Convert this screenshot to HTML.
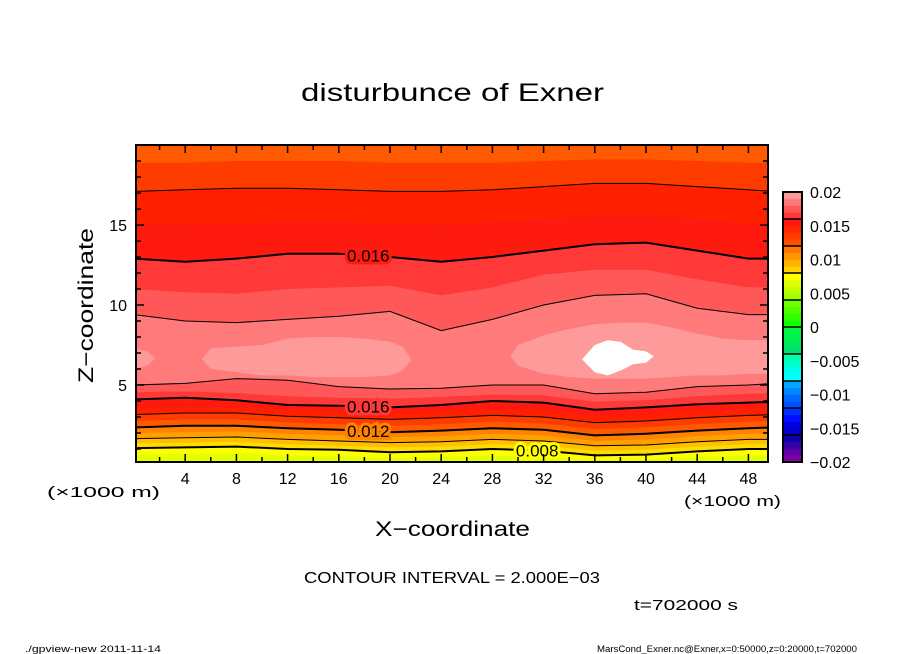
<!DOCTYPE html>
<html><head><meta charset="utf-8"><style>
body{margin:0;background:#fff;}
svg{display:block;font-family:"Liberation Sans",sans-serif;}
</style></head><body>
<svg id="chart" width="904" height="654" viewBox="0 0 904 654">
<defs><clipPath id="pc"><rect x="136" y="145" width="632" height="317"/></clipPath></defs>
<text x="301" y="101" font-size="25" textLength="303" lengthAdjust="spacingAndGlyphs">disturbunce of Exner</text>
<g id="plot" clip-path="url(#pc)"></g>
<g id="lines" clip-path="url(#pc)"></g>
<rect x="136" y="145" width="632" height="317" fill="none" stroke="#000" stroke-width="2"/>
<g id="axes"></g>
<g id="cbar"></g>
<text x="93" y="383" font-size="21" textLength="155" lengthAdjust="spacingAndGlyphs" transform="rotate(-90 93 383)">Z−coordinate</text>
<text x="375" y="536" font-size="21" textLength="155" lengthAdjust="spacingAndGlyphs">X−coordinate</text>
<text x="47" y="497" font-size="15" textLength="113" lengthAdjust="spacingAndGlyphs">(×1000 m)</text>
<text x="684" y="506" font-size="15" textLength="97" lengthAdjust="spacingAndGlyphs">(×1000 m)</text>
<text x="304" y="583" font-size="16" textLength="296" lengthAdjust="spacingAndGlyphs">CONTOUR INTERVAL = 2.000E−03</text>
<text x="634" y="610" font-size="15" textLength="104" lengthAdjust="spacingAndGlyphs">t=702000 s</text>
<text x="25" y="652" font-size="9" textLength="136" lengthAdjust="spacingAndGlyphs">./gpview-new  2011-11-14</text>
<text x="597" y="652" font-size="9" textLength="260" lengthAdjust="spacingAndGlyphs">MarsCond_Exner.nc@Exner,x=0:50000,z=0:20000,t=702000</text>
</svg>
<script>
// ---- data (z in km, x in km) ----
const xs = [0,4,8,12,16,20,24,28,32,36,40,44,48,50];
const levels = [0.007,0.008,0.009,0.010,0.011,0.012,0.013,0.014,0.015,0.016,0.017,0.018];
const lowerZ = [
 [0.65,0.7,0.75,0.6,0.55,0.45,0.5,0.6,0.5,0.3,0.35,0.5,0.6,0.6],
 [1.05,1.1,1.15,1.0,0.95,0.8,0.85,1.0,0.9,0.6,0.65,0.85,1.0,1.0],
 [1.35,1.4,1.45,1.3,1.2,1.1,1.15,1.3,1.2,0.9,0.95,1.15,1.3,1.3],
 [1.65,1.7,1.75,1.6,1.5,1.4,1.45,1.6,1.5,1.2,1.25,1.45,1.6,1.6],
 [2.0,2.05,2.1,1.95,1.85,1.75,1.8,1.95,1.85,1.5,1.6,1.8,1.95,1.95],
 [2.35,2.45,2.45,2.3,2.2,2.05,2.15,2.3,2.2,1.85,1.95,2.15,2.3,2.35],
 [2.75,2.85,2.85,2.65,2.55,2.45,2.55,2.7,2.6,2.25,2.35,2.55,2.7,2.75],
 [3.15,3.25,3.25,3.05,2.95,2.85,2.95,3.1,3.0,2.65,2.75,2.95,3.1,3.15],
 [3.55,3.65,3.6,3.45,3.35,3.25,3.35,3.5,3.4,3.05,3.15,3.35,3.5,3.55],
 [4.1,4.2,4.05,3.75,3.7,3.6,3.75,4.0,3.9,3.45,3.6,3.8,3.9,3.95],
 [4.55,4.6,4.5,4.3,4.2,4.15,4.25,4.4,4.35,3.95,4.05,4.3,4.45,4.5],
 [5.0,5.1,5.4,5.3,4.9,4.75,4.8,5.0,5.0,4.45,4.55,4.9,5.0,5.1]
];
const upperZ = [
 [21,21,21,21,21,21,21,21,21,21,21,21,21,21],
 [21,21,21,21,21,21,21,21,21,21,21,21,21,21],
 [21,21,21,21,21,21,21,21,21,21,21,21,21,21],
 [21,21,21,21,21,21,21,21,21,21,21,21,21,21],
 [21,21,21,21,21,21,21,21,21,21,21,21,21,21],
 [21,21,21,21,21,21,21,21,21,21,21,21,21,21],
 [18.9,18.9,19.0,19.0,19.0,18.9,18.9,18.9,19.0,19.1,19.1,19.0,18.9,18.9],
 [17.1,17.2,17.3,17.3,17.2,17.1,17.1,17.2,17.4,17.6,17.6,17.4,17.2,17.1],
 [15.0,15.0,15.1,15.2,15.2,15.1,15.0,15.2,15.4,15.6,15.6,15.4,15.1,15.0],
 [12.9,12.7,12.9,13.2,13.2,13.0,12.7,13.0,13.4,13.8,13.9,13.4,12.9,12.9],
 [11.0,10.8,10.7,11.0,11.1,11.2,10.6,11.1,11.9,12.2,12.2,11.6,11.1,11.1],
 [9.4,9.0,8.9,9.1,9.3,9.6,8.4,9.1,10.0,10.6,10.7,9.8,9.4,9.4]
];
const blob19aX = [-0.5,0.3,1.0,1.6];
const blob19aLo = [6.0,6.05,6.2,6.6];
const blob19aUp = [7.3,7.25,7.1,6.7];
const blob19bX = [5.3,6,8,10,12,14,16,18,20,21,21.6];
const blob19bLo = [6.6,6.0,5.8,5.6,5.6,5.5,5.5,5.5,5.6,5.9,6.5];
const blob19bUp = [6.6,7.3,7.4,7.5,7.9,8.0,8.0,7.9,7.7,7.4,6.7];
const blob19cX = [29.4,30,32,34,36,38,40,42,44,46,48,50];
const blob19cLo = [6.8,6.2,5.7,5.5,5.4,5.4,5.4,5.5,5.6,5.6,5.7,5.7];
const blob19cUp = [6.8,7.5,8.1,8.5,8.8,8.9,8.9,8.6,8.2,7.9,7.8,7.8];
const blob20X = [35,36,37,38,39,40,40.6];
const blob20Lo = [6.6,5.8,5.6,5.9,6.3,6.4,6.8];
const blob20Up = [6.6,7.5,7.8,7.7,7.2,7.1,6.8];
const cbTicks = [0.02,0.015,0.01,0.005,0,-0.005,-0.01,-0.015,-0.02];
const cbTickLabels = ["0.02","0.015","0.01","0.005","0","−0.005","−0.01","−0.015","−0.02"];
const xTicks = [4,8,12,16,20,24,28,32,36,40,44,48];
const zTicks = [5,10,15];

// ---- scales ----
const X = x => 134 + 12.8*x;
const Y = z => 465 - 16*z;
const NS='http://www.w3.org/2000/svg';
function mk(tag, attrs, parent){const e=document.createElementNS(NS,tag);for(const k in attrs)e.setAttribute(k,attrs[k]);parent.appendChild(e);return e;}
const colorFor = {0.006:'#e4ff00',0.007:'#ffff00',0.008:'#ffdc00',0.009:'#ffbe00',0.010:'#ffa000',0.011:'#ff8200',0.012:'#ff5a00',0.013:'#ff3c00',0.014:'#ff2000',0.015:'#ff1a10',0.016:'#ff3838',0.017:'#ff5858',0.018:'#ff7a7a',0.019:'#ff9a9a',0.020:'#ffffff'};
const plot=document.getElementById('plot');
const lines=document.getElementById('lines');

function bandPath(px, lo, up){
  let d='M'+X(px[0])+','+Y(lo[0]);
  for(let i=1;i<px.length;i++) d+='L'+X(px[i])+','+Y(lo[i]);
  for(let i=px.length-1;i>=0;i--) d+='L'+X(px[i])+','+Y(up[i]);
  return d+'Z';
}
function linePath(px, zs){
  let d='';
  for(let i=0;i<px.length;i++) d+=(i?'L':'M')+X(px[i])+','+Y(zs[i]);
  return d;
}
const bg=mk('rect',{x:130,y:140,width:650,height:330,fill:colorFor[0.006]},plot);


levels.forEach((lv,i)=>{
  const p=mk('path',{d:bandPath(xs,lowerZ[i],upperZ[i]),fill:colorFor[lv]},plot);
  
  
});
[[blob19aX,blob19aLo,blob19aUp],[blob19bX,blob19bLo,blob19bUp],[blob19cX,blob19cLo,blob19cUp]].forEach(b=>{
  const p=mk('path',{d:bandPath(b[0],b[1],b[2]),fill:colorFor[0.019]},plot);
  
  
});
const wb=mk('path',{d:bandPath(blob20X,blob20Lo,blob20Up),fill:'#fff'},plot);



levels.forEach((lv,i)=>{
  const k=Math.round(lv*1000);
  if(k%2) return;
  const thick=(k%4===0);
  const sw=thick?2:1;
  const lp=mk('path',{d:linePath(xs,lowerZ[i]),fill:'none',stroke:'#000','stroke-width':sw},lines);
  
  
  if(upperZ[i][0]<20.5){
    const up=mk('path',{d:linePath(xs,upperZ[i]),fill:'none',stroke:'#000','stroke-width':sw},lines);
    
    
  }
});
function interp(arr,x){for(let i=0;i<xs.length-1;i++){if(x>=xs[i]&&x<=xs[i+1]){const t=(x-xs[i])/(xs[i+1]-xs[i]);return arr[i]+t*(arr[i+1]-arr[i]);}}return arr[0];}
function clabel(txt,x,z,bgc){
  const t=mk('text',{x:X(x),y:Y(z)+6,'font-size':17,'text-anchor':'middle',fill:'#000',stroke:bgc,'stroke-width':6,'paint-order':'stroke'},lines);
  t.textContent=txt;
  
  
}
clabel('0.016',18.3,interp(upperZ[9],18.3),colorFor[0.015]);
clabel('0.016',18.3,interp(lowerZ[9],18.3),colorFor[0.016]);
clabel('0.012',18.3,interp(lowerZ[5],18.3),colorFor[0.011]);
clabel('0.008',31.5,interp(lowerZ[1],31.5),colorFor[0.007]);

const ax=document.getElementById('axes');
for(let v=2;v<=48;v+=2){
  const L=(v%4===0)?8:5;
  mk('line',{x1:X(v),x2:X(v),y1:462,y2:462-L,stroke:'#000','stroke-width':1.5},ax);
  mk('line',{x1:X(v),x2:X(v),y1:145,y2:145+L,stroke:'#000','stroke-width':1.5},ax);
}
for(let z=1;z<=19;z++){
  const L=(z%5===0)?8:5;
  mk('line',{x1:136,x2:136+L,y1:Y(z),y2:Y(z),stroke:'#000','stroke-width':1.5},ax);
  mk('line',{x1:768,x2:768-L,y1:Y(z),y2:Y(z),stroke:'#000','stroke-width':1.5},ax);
}
xTicks.forEach(v=>{
  const t=mk('text',{x:X(v),y:484,'font-size':16,'text-anchor':'middle'},ax);
  t.textContent=v;
  
  
});
zTicks.forEach(v=>{
  const t=mk('text',{x:127,y:Y(v)+6,'font-size':16,'text-anchor':'end'},ax);
  t.textContent=v;
  
  
});

const cb=document.getElementById('cbar');
const cbColors=['#8000a0','#6000a8','#3800a8','#1000a8','#0000c8','#0000e0','#0010ff','#0030ff','#0050ff','#0068ff','#0088ff','#00a8ff','#00ffff','#00ffea','#00ffd0','#00ffb0','#00e070','#00e860','#00f050','#00f840','#10ff00','#30ff00','#50ff00','#70ff00','#a0ff00','#c0ff00','#e0ff00','#ffff00','#ffd200','#ffb400','#ff9600','#ff7800','#ff5000','#ff3c00','#ff2800','#ff1a10','#ff3838','#ff5858','#ff7878','#ff9a9a'];
const cbTop=192, cbH=270, cbX=783, cbW=19;
const CY=v=>cbTop+(0.02-v)/0.04*cbH;
for(let i=0;i<40;i++){
  const v0=-0.02+i*0.001;
  const r=mk('rect',{x:cbX,y:CY(v0+0.001),width:cbW,height:cbH/40+0.3,fill:cbColors[i]},cb);
  
  
}
for(let i=1;i<10;i++){
  mk('line',{x1:cbX,x2:cbX+cbW,y1:CY(-0.02+i*0.004),y2:CY(-0.02+i*0.004),stroke:'#000','stroke-width':1.5},cb);
}
mk('rect',{x:cbX,y:cbTop,width:cbW,height:cbH,fill:'none',stroke:'#000','stroke-width':2},cb);
cbTicks.forEach((v,i)=>{
  const t=mk('text',{x:810,y:CY(v)+6,'font-size':16},cb);
  t.textContent=cbTickLabels[i];
  
  
});
</script>
</body></html>
